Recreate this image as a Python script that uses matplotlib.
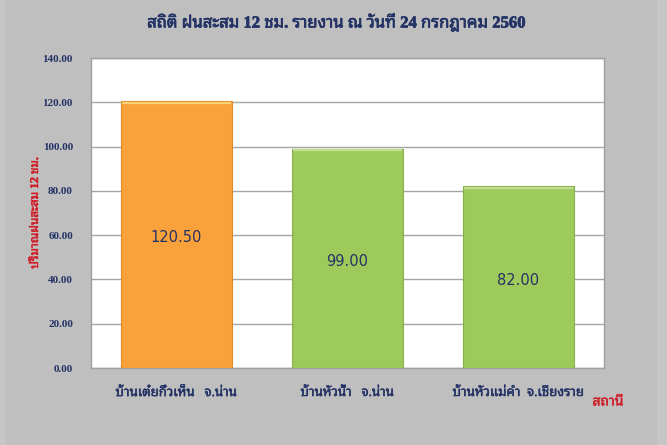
import matplotlib
matplotlib.use("Agg")
import matplotlib.pyplot as plt
import matplotlib.patheffects as pe
from matplotlib.patches import Rectangle

title = "สถิติ ฝนสะสม 12 ชม. รายงาน ณ วันที่ 24 กรกฎาคม 2560"
ylabel = "ปริมาณฝนสะสม 12 ชม."
xlabel = "สถานี"
stations = ["บ้านเต๋ยกิ๋วเห็น   จ.น่าน", "บ้านหัวน้ำ   จ.น่าน", "บ้านหัวแม่คำ  จ.เชียงราย"]
rain = [120.50, 99.00, 82.00]
value_labels = ["120.50", "99.00", "82.00"]
bar_colors = ["#F9A23B", "#9DCA5B"]
yticks = [0, 20, 40, 60, 80, 100, 120, 140]
ytick_labels = ["0.00", "20.00", "40.00", "60.00", "80.00", "100.00", "120.00", "140.00"]

navy = "#243365"
red = "#D0202A"
serif = ["Liberation Serif", "Noto Sans Thai Looped"]
thai_cat = ["Liberation Serif", "Noto Sans Thai Looped"]


def embolden(c, w=0.6):
    return [pe.withStroke(linewidth=w, foreground=c)]


fig = plt.figure(figsize=(6.67, 4.45), dpi=100)
fig.patch.set_facecolor("#C6C6C6")
fig.patches.append(Rectangle((6/667, 0), 651/667, 1, transform=fig.transFigure,
                             facecolor="#BFBFBF", edgecolor="none", zorder=-5))

ax = fig.add_axes([91/667, 1 - 368/445, 513/667, 310/445])
ax.set_facecolor("white")

x = list(range(len(stations)))
colors = [bar_colors[0]] + [bar_colors[1]] * (len(stations) - 1)
edge = ["#E08A2A"] + ["#86B04A"] * (len(stations) - 1)
bars = ax.bar(x, rain, width=0.645, color=colors, edgecolor=edge, linewidth=0.8, zorder=3)
# top bevel highlight
hl = ["#FFD27A"] + ["#C3E08E"] * (len(stations) - 1)
for b, c in zip(bars, hl):
    ax.plot([b.get_x() + 0.004, b.get_x() + b.get_width() - 0.004],
            [b.get_height() - 0.6, b.get_height() - 0.6], color=c, lw=1.6, zorder=4,
            solid_capstyle="butt")

for xi, v, lab in zip(x, rain, value_labels):
    ax.text(xi, v / 2 - 1.5, lab, ha="center", va="center", fontsize=10.5,
            color=navy, family=["DejaVu Sans"], zorder=5)

ax.set_xlim(-0.5, len(stations) - 0.5)
ax.set_ylim(0, 140)
ax.set_yticks(yticks)
ax.set_yticklabels(ytick_labels, family=serif, fontsize=8, fontweight="bold", color=navy)
ax.set_xticks(x)
ax.set_xticklabels(stations, family=thai_cat, fontsize=9.5, color=navy)
for t in ax.get_xticklabels():
    t.set_path_effects(embolden(navy, 0.3))
ax.tick_params(axis="y", length=0, pad=13)
ax.tick_params(axis="x", length=0, pad=13)
ax.yaxis.grid(True, color="#A6A6A6", linewidth=1.0, zorder=1)
ax.set_axisbelow(True)
for s in ax.spines.values():
    s.set_color("#A0A0A0")
    s.set_linewidth(1.0)

fig.text(336/667, 1 - 22/445, title, ha="center", va="center", fontsize=12,
         fontweight="bold", color=navy, family=serif, path_effects=embolden(navy, 0.5))
fig.text(35/667, 1 - 213/445, ylabel, ha="center", va="center", rotation=90,
         fontsize=8.5, fontweight="bold", color=red, family=serif,
         path_effects=embolden(red, 0.35))
fig.text(608/667, 1 - 402/445, xlabel, ha="center", va="center", fontsize=10,
         color=red, family=thai_cat, path_effects=embolden(red, 0.3))

fig.savefig("out.png", dpi=100, facecolor=fig.get_facecolor())
